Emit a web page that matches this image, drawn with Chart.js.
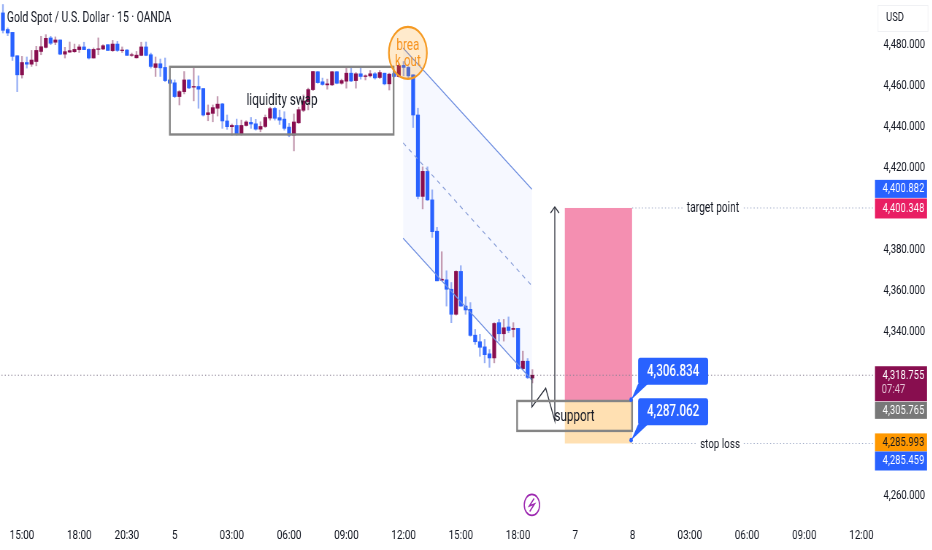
<!DOCTYPE html>
<html>
<head>
<meta charset="utf-8">
<title>Gold Spot / U.S. Dollar</title>
<script src="https://cdn.jsdelivr.net/npm/chart.js@4/dist/chart.umd.min.js"></script>
<style>
  html, body { margin: 0; padding: 0; background: #fff; overflow: hidden; }
  #frame { width: 932px; height: 550px; overflow: hidden; }
  /* the picture is squeezed sideways, so the whole canvas is too */
  #squeeze { width: 1277px; height: 550px; transform: scaleX(0.73); transform-origin: left top; }
  canvas { display: block; }
</style>
</head>
<body>
<div id="frame"><div id="squeeze"><canvas id="goldChart" width="1277" height="550"></canvas></div></div>
<script>
// candles, 15 min. bar 0 is the first 15:00 tick
const firstBar = -4;
const opens = [
  4495.5, 4487.4, 4486.0, 4474.6, 4465.3, 4471.3, 4470.5, 4471.8, 4476.7, 4478.7,
  4483.3, 4481.2, 4482.3, 4475.4, 4476.4, 4476.6, 4477.6, 4478.9, 4477.7, 4473.5,
  4477.7, 4477.9, 4480.0, 4477.1, 4480.3, 4477.1, 4477.4, 4474.8, 4473.6, 4474.8,
  4478.9, 4475.1, 4468.9, 4470.7, 4468.9, 4462.8, 4461.4, 4454.7, 4457.1, 4462.8,
  4459.3, 4459.6, 4458.6, 4445.9, 4446.5, 4449.0, 4451.1, 4442.8, 4440.0, 4440.6,
  4436.2, 4440.6, 4442.1, 4441.4, 4438.8, 4440.1, 4444.2, 4448.9, 4444.4, 4443.7,
  4439.8, 4435.9, 4441.9, 4448.0, 4452.2, 4458.1, 4466.8, 4461.9, 4460.4, 4460.4,
  4466.8, 4461.2, 4462.2, 4466.1, 4462.5, 4465.8, 4464.5, 4464.8, 4465.8, 4464.0,
  4466.1, 4460.9, 4465.9, 4464.5, 4469.9, 4468.9, 4465.3, 4445.7, 4406.0, 4418.2,
  4404.3, 4389.0, 4365.1, 4365.3, 4360.7, 4348.5, 4369.4, 4352.5, 4350.9, 4338.3,
  4335.1, 4332.6, 4329.2, 4327.2, 4344.4, 4339.0, 4342.3, 4341.1, 4341.6, 4322.0,
  4325.6, 4317.4
];
const highs = [
  4499.6, 4488.2, 4486.0, 4474.6, 4474.3, 4474.0, 4477.2, 4479.2, 4484.1, 4484.9,
  4484.1, 4483.8, 4482.3, 4478.7, 4481.3, 4480.3, 4480.0, 4481.2, 4478.0, 4478.4,
  4483.3, 4480.0, 4480.0, 4482.1, 4481.6, 4478.9, 4477.6, 4475.9, 4476.7, 4481.2,
  4481.3, 4475.9, 4474.0, 4473.0, 4473.5, 4463.2, 4462.8, 4457.6, 4466.9, 4462.8,
  4469.4, 4464.8, 4458.6, 4450.6, 4450.6, 4454.7, 4451.4, 4445.7, 4441.3, 4443.7,
  4443.2, 4442.9, 4444.5, 4443.6, 4442.4, 4445.7, 4449.5, 4449.5, 4448.1, 4447.3,
  4441.6, 4446.2, 4449.5, 4455.5, 4458.8, 4466.9, 4466.9, 4463.7, 4463.2, 4466.9,
  4466.9, 4463.2, 4469.4, 4469.4, 4466.4, 4468.6, 4465.3, 4467.4, 4466.4, 4467.4,
  4466.1, 4466.1, 4467.8, 4470.7, 4471.8, 4469.4, 4465.3, 4449.0, 4420.4, 4420.4,
  4409.2, 4390.9, 4379.0, 4369.7, 4364.0, 4369.7, 4372.2, 4357.0, 4354.2, 4341.1,
  4338.7, 4336.2, 4331.3, 4344.4, 4346.0, 4346.0, 4347.2, 4344.4, 4341.6, 4330.5,
  4326.9, 4321.5
];
const lows = [
  4485.7, 4484.4, 4472.3, 4457.1, 4463.7, 4468.6, 4469.4, 4469.7, 4475.1, 4478.4,
  4480.0, 4480.0, 4475.1, 4473.5, 4476.2, 4476.2, 4476.2, 4477.6, 4473.0, 4473.5,
  4475.1, 4477.6, 4477.2, 4476.7, 4476.7, 4476.2, 4474.8, 4474.3, 4473.5, 4474.6,
  4474.6, 4468.6, 4464.5, 4464.5, 4462.0, 4460.9, 4454.2, 4450.6, 4456.0, 4458.6,
  4452.6, 4449.0, 4445.2, 4442.9, 4442.4, 4445.2, 4439.2, 4438.7, 4435.9, 4435.9,
  4435.9, 4440.3, 4439.2, 4438.3, 4437.5, 4439.6, 4443.2, 4443.2, 4441.1, 4438.3,
  4435.1, 4428.2, 4441.6, 4447.3, 4448.2, 4457.6, 4461.2, 4460.2, 4458.3, 4460.1,
  4460.9, 4460.7, 4458.8, 4462.0, 4458.8, 4463.2, 4462.8, 4464.2, 4463.2, 4463.5,
  4460.4, 4457.9, 4464.2, 4464.2, 4464.8, 4463.2, 4439.6, 4404.8, 4399.9, 4404.0,
  4386.0, 4364.8, 4364.8, 4352.5, 4344.4, 4348.1, 4352.4, 4348.5, 4337.8, 4333.8,
  4328.0, 4324.8, 4322.6, 4324.8, 4335.4, 4335.4, 4339.5, 4337.4, 4321.5, 4321.5,
  4317.1, 4315.0
];
const closes = [
  4487.0, 4485.7, 4474.3, 4465.3, 4471.3, 4470.5, 4472.5, 4477.2, 4479.0, 4483.1,
  4480.7, 4482.3, 4475.4, 4476.6, 4477.1, 4477.7, 4478.9, 4477.6, 4473.5, 4477.7,
  4478.0, 4479.5, 4477.2, 4480.3, 4477.2, 4477.4, 4474.8, 4475.1, 4474.9, 4478.9,
  4474.8, 4469.4, 4470.7, 4468.7, 4462.5, 4461.2, 4454.7, 4457.1, 4462.8, 4458.9,
  4459.6, 4458.3, 4445.7, 4446.8, 4449.3, 4451.0, 4442.8, 4440.0, 4440.6, 4436.2,
  4440.6, 4442.3, 4441.3, 4438.8, 4440.1, 4444.5, 4448.8, 4444.1, 4443.2, 4439.2,
  4435.9, 4442.3, 4448.3, 4452.5, 4458.1, 4466.9, 4461.5, 4460.6, 4460.9, 4466.8,
  4461.2, 4462.5, 4466.1, 4462.3, 4465.8, 4464.5, 4464.8, 4465.8, 4463.8, 4466.4,
  4460.9, 4465.6, 4464.5, 4469.9, 4468.9, 4464.8, 4445.7, 4406.0, 4418.2, 4404.3,
  4388.8, 4364.8, 4365.6, 4360.7, 4348.5, 4369.4, 4352.5, 4350.6, 4338.2, 4335.1,
  4332.4, 4328.8, 4327.2, 4344.0, 4339.0, 4341.9, 4340.6, 4341.6, 4322.0, 4325.6,
  4317.7, 4318.755
];

// axis ticks
const timeTickBars = [0, 12, 22, 32, 44, 56, 68, 80, 92, 104, 116, 128, 140, 152, 164, 176];
const timeTickLabels = ['15:00', '18:00', '20:30', '5', '03:00', '06:00', '09:00', '12:00', '15:00', '18:00', '7', '8', '03:00', '06:00', '09:00', '12:00'];
const priceTicks = [4480, 4460, 4440, 4420, 4380, 4360, 4340, 4260];

// drawings on the chart, in [bar, price]
const channelTop = [[79.9, 4478.4], [106.9, 4409.5]];
const channelMid = [[79.9, 4432.1], [106.9, 4362.4]];
const channelBottom = [[79.9, 4385.6], [106.9, 4316.4]];
const liquidityBox = [[31.0, 4469.2], [77.9, 4436.2]];
const supportBox = [[103.8, 4306.2], [127.9, 4291.6]];
const profitBox = [[113.8, 4400.348], [127.9, 4305.765]];
const lossBox = [[113.8, 4305.765], [127.9, 4285.459]];
const pathToTarget = [[106.9, 4318.755], [106.9, 4303.3], [109.8, 4312.4], [111.7, 4296.4], [111.7, 4400.882]];
const breakoutSpot = [80.9, 4476.0];
const flashSpot = [106.9, 4255.5];

const currentPrice = 4318.755;
const targetPrice = 4400.348;
const stopPrice = 4285.459;
const calloutBar = 127.7;
const calloutPrices = [4306.834, 4287.062];

// tags on the price axis
const tagTexts = ['4,400.882', '4,400.348', '4,305.765', '4,285.993', '4,285.459'];
const tagPrices = [4400.882, 4400.348, 4305.765, 4285.993, 4285.459];

const BLUE = '#2962ff';
const MAROON = '#880e4f';
const FONT = 'Roboto, "Liberation Sans", sans-serif';
// page px to canvas px, must match the scaleX in the css
const SQUEEZE = 0.73;
const sx = px => px / SQUEEZE;

const barIdx = opens.map((_, i) => firstBar + i);
const isUp = i => closes[i] >= opens[i];
const toPoints = list => list.map(p => ({ x: p[0], y: p[1] }));
const priceText = v => v.toLocaleString('en-US', { minimumFractionDigits: 3 });

function labelOn(ctx, text, cx, cy, font, color, bg) {
    ctx.font = font;
    ctx.textAlign = 'center';
    ctx.textBaseline = 'middle';
    if (bg) {
        const w = ctx.measureText(text).width;
        ctx.fillStyle = bg;
        ctx.fillRect(sx(cx) - w / 2 - 4, cy - 7, w + 8, 14);
    }
    ctx.fillStyle = color;
    ctx.fillText(text, sx(cx), cy);
}

// fills go under the candles
const backFills = {
    id: 'backFills',
    beforeDatasetsDraw(chart) {
        const { ctx, scales: { x, y } } = chart;
        const fillBox = (box, color) => {
            ctx.fillStyle = color;
            ctx.fillRect(x.getPixelForValue(box[0][0]), y.getPixelForValue(box[0][1]),
                x.getPixelForValue(box[1][0]) - x.getPixelForValue(box[0][0]),
                y.getPixelForValue(box[1][1]) - y.getPixelForValue(box[0][1]));
        };
        ctx.save();
        ctx.fillStyle = 'rgba(41, 98, 255, 0.045)';
        ctx.beginPath();
        ctx.moveTo(x.getPixelForValue(channelTop[0][0]), y.getPixelForValue(channelTop[0][1]));
        ctx.lineTo(x.getPixelForValue(channelTop[1][0]), y.getPixelForValue(channelTop[1][1]));
        ctx.lineTo(x.getPixelForValue(channelBottom[1][0]), y.getPixelForValue(channelBottom[1][1]));
        ctx.lineTo(x.getPixelForValue(channelBottom[0][0]), y.getPixelForValue(channelBottom[0][1]));
        ctx.closePath();
        ctx.fill();
        fillBox(profitBox, '#f48fb1');
        fillBox(lossBox, '#ffe0b2');
        ctx.restore();
    }
};

// boxes, texts, callouts and the tags on the axis
const frontDrawings = {
    id: 'frontDrawings',
    afterDatasetsDraw(chart) {
        const { ctx, scales: { x, y } } = chart;
        const strokeBox = box => {
            ctx.strokeStyle = '#858585';
            ctx.lineWidth = 2.4;
            ctx.strokeRect(x.getPixelForValue(box[0][0]), y.getPixelForValue(box[0][1]),
                x.getPixelForValue(box[1][0]) - x.getPixelForValue(box[0][0]),
                y.getPixelForValue(box[1][1]) - y.getPixelForValue(box[0][1]));
        };
        ctx.save();
        strokeBox(liquidityBox);
        strokeBox(supportBox);

        labelOn(ctx, 'liquidity swap', 282, 101, '16px ' + FONT, '#131722');
        labelOn(ctx, 'support', 574.5, 417, '16px ' + FONT, '#131722');
        labelOn(ctx, 'target point', 713, 208, '14px ' + FONT, '#131722', '#fff');
        labelOn(ctx, 'stop loss', 720, y.getPixelForValue(stopPrice) + 1, '13.5px ' + FONT, '#131722', '#fff');

        // breakout circle
        const bx = x.getPixelForValue(breakoutSpot[0]);
        const by = y.getPixelForValue(breakoutSpot[1]);
        ctx.beginPath();
        ctx.ellipse(bx, by, sx(19), 26, 0, 0, Math.PI * 2);
        ctx.fillStyle = 'rgba(255, 152, 0, 0.2)';
        ctx.fill();
        ctx.strokeStyle = '#f59a23';
        ctx.lineWidth = 2.2;
        ctx.stroke();
        labelOn(ctx, 'brea', breakoutX(x), by - 7, '16px ' + FONT, '#f7931e');
        labelOn(ctx, 'k out', breakoutX(x), by + 9, '16px ' + FONT, '#f7931e');

        // price callouts
        const dotX = x.getPixelForValue(calloutBar);
        calloutPrices.forEach(price => {
            const dotY = y.getPixelForValue(price);
            ctx.fillStyle = BLUE;
            ctx.beginPath();
            ctx.moveTo(dotX, dotY);
            ctx.lineTo(dotX + sx(7), dotY - 16);
            ctx.lineTo(dotX + sx(17), dotY - 16);
            ctx.closePath();
            ctx.fill();
            ctx.beginPath();
            ctx.arc(dotX, dotY, 2.4, 0, Math.PI * 2);
            ctx.fill();
            ctx.beginPath();
            ctx.roundRect(dotX + sx(7), dotY - 42, sx(70), 27, 3);
            ctx.fill();
            ctx.font = '500 16px ' + FONT;
            ctx.textAlign = 'center';
            ctx.textBaseline = 'middle';
            ctx.fillStyle = '#fff';
            ctx.fillText(priceText(price), dotX + sx(42), dotY - 28);
        });

        // flash icon
        const fx = x.getPixelForValue(flashSpot[0]);
        const fy = y.getPixelForValue(flashSpot[1]);
        ctx.strokeStyle = '#9c27b0';
        ctx.lineWidth = 1.6;
        ctx.beginPath();
        ctx.arc(fx, fy, 10.5, 0, Math.PI * 2);
        ctx.stroke();
        ctx.beginPath();
        ctx.moveTo(fx + 3, fy - 6.5);
        ctx.lineTo(fx - 3.5, fy + 1);
        ctx.lineTo(fx + 3.5, fy - 1);
        ctx.lineTo(fx - 3, fy + 6.5);
        ctx.stroke();

        // header
        ctx.font = '14.2px ' + FONT;
        ctx.textAlign = 'left';
        ctx.textBaseline = 'middle';
        ctx.fillStyle = '#131722';
        ctx.fillText('Gold Spot / U.S. Dollar · 15 · OANDA', sx(7), 18);

        // price axis tags
        const tag = (top, h, bg, fg, text) => {
            ctx.fillStyle = bg;
            ctx.fillRect(sx(875), top, sx(52), h);
            labelOn(ctx, text, 903.5, top + h / 2, '13px ' + FONT, fg);
        };
        tag(y.getPixelForValue(tagPrices[0]) - 27, 18, BLUE, '#fff', tagTexts[0]);
        tag(y.getPixelForValue(tagPrices[1]) - 9.5, 20, '#e91e63', '#fff', tagTexts[1]);
        ctx.fillStyle = MAROON;
        ctx.fillRect(sx(875), y.getPixelForValue(currentPrice) - 9, sx(52), 35);
        labelOn(ctx, priceText(currentPrice), 903.5, y.getPixelForValue(currentPrice) + 1, '13px ' + FONT, '#fff');
        labelOn(ctx, '07:47', 893.5, y.getPixelForValue(currentPrice) + 15, '13px ' + FONT, '#e6c4d6');
        tag(y.getPixelForValue(tagPrices[2]) + 0, 17, '#787878', '#fff', tagTexts[2]);
        tag(y.getPixelForValue(tagPrices[3]) - 9, 18, '#ff9800', '#131722', tagTexts[3]);
        tag(y.getPixelForValue(tagPrices[4]) + 8, 19, BLUE, '#fff', tagTexts[4]);

        // currency button
        ctx.strokeStyle = '#f0f1f4';
        ctx.lineWidth = 1;
        ctx.strokeRect(sx(878), 5.5, sx(50), 26);
        ctx.font = '13px ' + FONT;
        ctx.textAlign = 'left';
        ctx.fillStyle = '#131722';
        ctx.fillText('USD', sx(886), 18);
        ctx.restore();
    }
};

// labelOn wants page px, the breakout text follows the circle
function breakoutX(x) {
    return x.getPixelForValue(breakoutSpot[0]) * SQUEEZE;
}

const ctx = document.getElementById('goldChart').getContext('2d');
new Chart(ctx, {
    type: 'bar',
    data: {
        datasets: [
            {
                label: 'wicks',
                order: 5,
                barThickness: 1.7,
                grouped: false,
                backgroundColor: c => isUp(c.dataIndex) ? '#c49cb2' : '#98b0f5',
                data: barIdx.map((b, i) => ({ x: b, y: [lows[i], highs[i]] }))
            },
            {
                label: 'bodies',
                order: 4,
                barThickness: 4.6,
                grouped: false,
                backgroundColor: c => isUp(c.dataIndex) ? MAROON : BLUE,
                data: barIdx.map((b, i) => ({ x: b, y: [opens[i], closes[i]] }))
            },
            {
                type: 'line',
                label: 'channel top',
                order: 3,
                borderColor: '#6f8fe0',
                borderWidth: 1.2,
                pointRadius: 0,
                data: toPoints(channelTop)
            },
            {
                type: 'line',
                label: 'channel middle',
                order: 3,
                borderColor: '#8a9fd8',
                borderWidth: 1.2,
                borderDash: [5, 5],
                pointRadius: 0,
                data: toPoints(channelMid)
            },
            {
                type: 'line',
                label: 'channel bottom',
                order: 3,
                borderColor: '#6f8fe0',
                borderWidth: 1.2,
                pointRadius: 0,
                data: toPoints(channelBottom)
            },
            {
                type: 'line',
                label: 'current price',
                order: 6,
                borderColor: '#8c8396',
                borderWidth: 1,
                borderDash: [1.5, 3],
                pointRadius: 0,
                data: [{ x: firstBar - 1, y: currentPrice }, { x: 179, y: currentPrice }]
            },
            {
                type: 'line',
                label: 'target',
                order: 6,
                borderColor: '#a2adc8',
                borderWidth: 1,
                borderDash: [1.5, 3],
                pointRadius: 0,
                data: [{ x: profitBox[1][0], y: targetPrice }, { x: 179, y: targetPrice }]
            },
            {
                type: 'line',
                label: 'stop',
                order: 6,
                borderColor: '#a2adc8',
                borderWidth: 1,
                borderDash: [1.5, 3],
                pointRadius: 0,
                data: [{ x: lossBox[1][0], y: stopPrice }, { x: 179, y: stopPrice }]
            },
            {
                type: 'line',
                label: 'path to target',
                order: 2,
                borderColor: '#2a2e39',
                borderWidth: 1.3,
                pointRadius: 0,
                data: toPoints(pathToTarget)
            },
            {
                // arrow head at the end of the path
                type: 'line',
                label: 'arrow head',
                order: 2,
                borderColor: '#2a2e39',
                borderWidth: 1.3,
                pointRadius: 0,
                data: [
                    { x: pathToTarget[4][0] - 0.9, y: pathToTarget[4][1] - 3 },
                    { x: pathToTarget[4][0], y: pathToTarget[4][1] },
                    { x: pathToTarget[4][0] + 0.9, y: pathToTarget[4][1] - 3 }
                ]
            }
        ]
    },
    options: {
        responsive: false,
        animation: false,
        devicePixelRatio: 1,
        parsing: { xAxisKey: 'x', yAxisKey: 'y' },
        layout: { padding: 0 },
        plugins: { legend: { display: false }, tooltip: { enabled: false } },
        scales: {
            x: {
                type: 'linear',
                offset: false,
                min: -4.61,
                max: 178.41,
                grid: { display: false, drawTicks: false },
                border: { display: false },
                afterFit(scale) {
                    scale.height = 25;
                    scale.paddingLeft = 0;
                    scale.paddingRight = 0;
                },
                afterBuildTicks(scale) { scale.ticks = timeTickBars.map(v => ({ value: v })); },
                ticks: {
                    autoSkip: false,
                    maxRotation: 0,
                    padding: 3,
                    color: '#131722',
                    font: { family: FONT, size: 13.5 },
                    callback: v => timeTickLabels[timeTickBars.indexOf(v)]
                }
            },
            y: {
                position: 'right',
                min: 4245.7,
                max: 4501.8,
                grid: { display: false, drawTicks: false },
                border: { display: false },
                afterFit(scale) {
                    scale.width = 1277 - sx(873);
                    scale.paddingTop = 0;
                    scale.paddingBottom = 0;
                },
                afterBuildTicks(scale) { scale.ticks = priceTicks.map(v => ({ value: v })); },
                ticks: {
                    autoSkip: false,
                    padding: sx(10.5),
                    color: '#131722',
                    font: { family: FONT, size: 13 },
                    callback: v => priceText(v)
                }
            }
        }
    },
    plugins: [backFills, frontDrawings]
});
</script>
</body>
</html>
